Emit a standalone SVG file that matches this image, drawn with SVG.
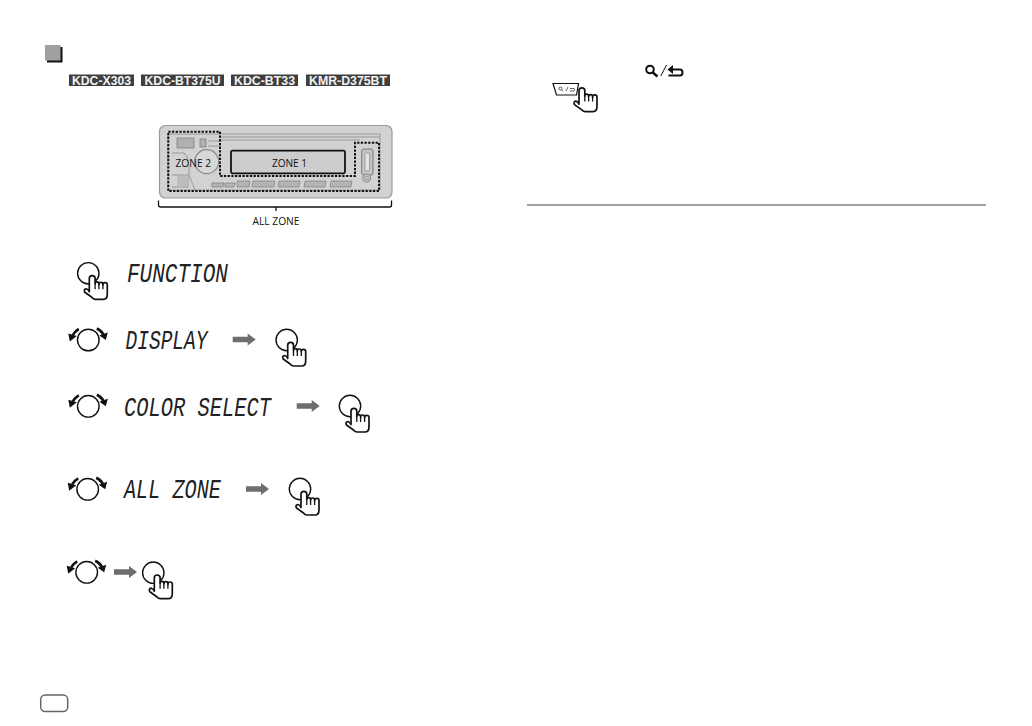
<svg xmlns="http://www.w3.org/2000/svg" width="1032" height="726" viewBox="0 0 1032 726">
<style>
.tag{fill:#3f3f3f}
.tagt{font-family:"Liberation Sans",Arial,sans-serif;font-weight:700;font-size:12.500px;fill:#f2f2f2}
.z{font-family:"Open Sans",sans-serif;font-size:10.500px;fill:#111}
.lcd{font-family:"Liberation Mono",monospace;font-style:italic;font-size:27px;fill:#222}
.ic{fill:none;stroke:#111;stroke-width:1.400}
.d{fill:none;stroke:#8a8a8a;stroke-width:.8}
.dd{fill:#b0b0b0;stroke:#7a7a7a;stroke-width:.7}
</style>
<defs>
<g id="hand">
<path d="M1 18.500V5.200A2.900 2.900 0 0 1 6.800 5.200V10.500A1.900 1.900 0 0 1 10.600 10.500V11A2 2 0 0 1 14.600 11V11.500A2.200 2.200 0 0 1 19 11.500V21Q19 26 15 26H7Q5 26 3.500 24L-3.500 19Q-5 16-2 15.500Q0 16 1 18.500Z" fill="#fff" stroke="#111" stroke-width="1.700" stroke-linejoin="round"/>
<path d="M6.800 10.500V16M10.600 10.500V16M14.600 11V16" fill="none" stroke="#111" stroke-width="1.300"/>
</g>
<g id="press">
<circle r="10.700" class="ic"/>
<use href="#hand"/>
</g>
<g id="turn">
<circle r="10.800" class="ic"/>
<path d="M-9.500-11Q-13-9-15.500-5" fill="none" stroke="#111" stroke-width="2.600"/>
<path d="M-18.500 1.500L-20-6.500L-11.500-4Z" fill="#111"/>
<path d="M8.500-11.500Q13-9.500 15.500-5" fill="none" stroke="#111" stroke-width="2.600"/>
<path d="M17.500 0L19.500-7.500L11-4.500Z" fill="#111"/>
</g>
<path id="go" d="M0-2.700H15V-6L23 0L15 6V2.700H0Z" fill="#6e6e6e"/>
</defs>
<rect width="1032" height="726" fill="#fff"/>

<g id="section-mark">
<rect x="47" y="47" width="15.500" height="15.500" fill="#111"/>
<rect x="45" y="45" width="15.500" height="15.500" fill="#a0a0a0"/>
</g>

<g id="model-tags">
<rect class="tag" x="69" y="74.500" width="65" height="11.500"/>
<text class="tagt" x="72" y="84.700" textLength="59" lengthAdjust="spacingAndGlyphs">KDC-X303</text>
<rect class="tag" x="141" y="74.500" width="83" height="11.500"/>
<text class="tagt" x="144.500" y="84.700" textLength="76" lengthAdjust="spacingAndGlyphs">KDC-BT375U</text>
<rect class="tag" x="231" y="74.500" width="67" height="11.500"/>
<text class="tagt" x="234" y="84.700" textLength="61" lengthAdjust="spacingAndGlyphs">KDC-BT33</text>
<rect class="tag" x="306" y="74.500" width="84" height="11.500"/>
<text class="tagt" x="309" y="84.700" textLength="78" lengthAdjust="spacingAndGlyphs">KMR-D375BT</text>
</g>

<g id="head-unit">
<rect x="159.500" y="125.500" width="232.500" height="72.500" rx="6" fill="#d2d2d2" stroke="#9a9a9a" stroke-width="1.200"/>
<path class="d" d="M168 134H380V190H168Z"/>
<path class="d" d="M220 137H380M220 140H360"/>
<rect class="dd" x="177" y="138" width="17" height="10"/>
<rect class="dd" x="200" y="139" width="6" height="8"/>
<path class="d" d="M208 141H220M208 146H220"/>
<circle cx="206.700" cy="161.700" r="12" fill="#d8d8d8" stroke="#8a8a8a" stroke-width="1.200"/>
<path class="d" d="M172 153H184Q190 157 189 175L195 190M172 175H188V187H172"/>
<rect x="177" y="176" width="11" height="10" fill="#bcbcbc"/>
<g fill="#b4b4b4" stroke="#7f7f7f" stroke-width=".7">
<path d="M212 183H224L223 187H212Z"/>
<path d="M225 183H235L234 187H225Z"/>
<path d="M237 181H250L249 187H237Z"/>
<path d="M253 181H275L274 187H252Z"/>
<path d="M279 181H300L299 187H278Z"/>
<path d="M305 181H326L325 187H304Z"/>
<path d="M331 181H352L351 187H330Z"/>
</g>
<rect x="361.700" y="149" width="11.300" height="26" rx="2" fill="#c4c4c4" stroke="#777"/>
<rect x="365" y="153" width="4.500" height="18" rx="1" fill="#e4e4e4" stroke="#888" stroke-width=".7"/>
<circle cx="366.700" cy="178" r="4" fill="#c8c8c8" stroke="#888"/>
<circle cx="366.700" cy="178" r="1.800" fill="none" stroke="#888" stroke-width=".7"/>
<rect x="231" y="150.700" width="114" height="22.600" rx="1.500" fill="#cdcdcd" stroke="#111" stroke-width="1.800"/>
<path d="M168.300 131.700H220V176H355V142.700H379V191H168.300Z" fill="none" stroke="#111" stroke-width="2" stroke-dasharray="2.300 1.400"/>
<text class="z" x="175.500" y="167" textLength="35.500" lengthAdjust="spacingAndGlyphs">ZONE 2</text>
<text class="z" x="272" y="167" textLength="35" lengthAdjust="spacingAndGlyphs">ZONE 1</text>
<path d="M158.500 200.500V205Q158.500 207 161 207H389.500Q391.500 207 391.500 205V200.500M276 207V211" fill="none" stroke="#111" stroke-width="1.300"/>
<text class="z" x="252.500" y="224.500" textLength="47" lengthAdjust="spacingAndGlyphs">ALL ZONE</text>
</g>

<g id="step-function">
<use href="#press" x="88.300" y="273.300"/>
<text class="lcd" x="127" y="281.500" textLength="101" lengthAdjust="spacingAndGlyphs">FUNCTION</text>
</g>
<g id="step-display">
<use href="#turn" x="88.300" y="340"/>
<text class="lcd" x="125.500" y="349" textLength="82" lengthAdjust="spacingAndGlyphs">DISPLAY</text>
<use href="#press" x="286.700" y="340"/>
</g>
<g id="step-color">
<use href="#turn" x="88.300" y="406.300"/>
<text class="lcd" x="124" y="415.500" textLength="147" lengthAdjust="spacingAndGlyphs">COLOR SELECT</text>
<use href="#press" x="350" y="406"/>
</g>
<g id="step-zone">
<use href="#turn" x="87.700" y="489.300"/>
<text class="lcd" x="124" y="497.500" textLength="97" lengthAdjust="spacingAndGlyphs">ALL ZONE</text>
<use href="#press" x="300" y="489"/>
</g>
<g id="step-last">
<use href="#turn" x="86.700" y="572.300"/>
<use href="#press" x="153.300" y="572.700"/>
</g>
<g id="connectors">
<use href="#go" x="232.700" y="339.500"/>
<use href="#go" x="296.700" y="406"/>
<use href="#go" x="246" y="489"/>
<use href="#go" x="114" y="572"/>
</g>

<g id="search-back-icon" fill="none" stroke="#111" stroke-width="2">
<circle cx="650" cy="69.500" r="3.800"/>
<path d="M652.800 72.500L657.500 76.500" stroke-width="2.400"/>
<path d="M666.500 65L660.800 76" stroke-width="1"/>
<path d="M672 69.500H680Q682.500 69.500 682.500 72.500Q682.500 75.500 680 75.500H668.500"/>
<path d="M667.500 69.500L673 65V74Z" fill="#111" stroke="none"/>
</g>
<g id="search-button">
<path d="M553 83.500H578.500L576.500 95H556.500Z" fill="#fff" stroke="#111" stroke-width="1.200"/>
<circle cx="560.500" cy="88.500" r="1.500" fill="none" stroke="#333" stroke-width=".8"/>
<path d="M561.500 89.800L563 91M568 87L566 91M570 88.500H574Q575 90.500 574 91H570" fill="none" stroke="#333" stroke-width=".8"/>
<use href="#hand" x="578" y="85.600"/>
</g>
<path id="rule" d="M527 205H986" stroke="#444" stroke-width="1.200" fill="none"/>
<rect id="page-pill" x="40.700" y="695" width="27" height="16.500" rx="4.500" fill="#fff" stroke="#666" stroke-width="1.500"/>
</svg>
